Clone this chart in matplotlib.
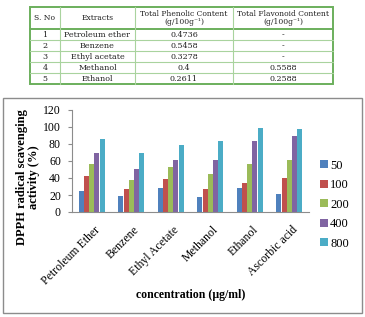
import matplotlib
matplotlib.use("Agg")
import matplotlib.pyplot as plt
import matplotlib.transforms as mtransforms
import numpy as np
from matplotlib.patches import Rectangle

# ---- table data ----
tbl_header = ["S. No", "Extracts", "Total Phenolic Content\n(g/100g\u207b\u00b9)", "Total Flavonoid Content\n(g/100g\u207b\u00b9)"]
tbl_sno = ["1", "2", "3", "4", "5"]
tbl_extracts = ["Petroleum ether", "Benzene", "Ethyl acetate", "Methanol", "Ethanol"]
tbl_phenolic = ["0.4736", "0.5458", "0.3278", "0.4", "0.2611"]
tbl_flavonoid = ["-", "-", "-", "0.5588", "0.2588"]

# ---- chart data ----
categories = ["Petroleum Ether", "Benzene", "Ethyl Acetate", "Methanol", "Ethanol", "Ascorbic acid"]
conc_labels = ["50", "100", "200", "400", "800"]
v50 = [25, 19, 28, 18, 28, 21]
v100 = [42, 27, 39, 26.5, 34.5, 40.5]
v200 = [57, 38, 53, 45, 56, 61]
v400 = [69, 51, 61.5, 61, 83, 89]
v800 = [86, 69, 79, 84, 98.5, 98]
series = [v50, v100, v200, v400, v800]
colors = ["#4F81BD", "#C0504D", "#9BBB59", "#8064A2", "#4BACC6"]

W, H = 365, 317
fig = plt.figure(figsize=(W / 100, H / 100), dpi=100)
serif = ["Liberation Serif", "DejaVu Serif"]
tserif = ["DejaVu Serif"]

# overlay axes in pixel coordinates for table and box
ov = fig.add_axes([0, 0, 1, 1])
ov.set_xlim(0, W)
ov.set_ylim(H, 0)
ov.axis("off")

# table geometry
cols = [30, 60, 135, 233, 333]
rows = [7, 29, 40, 51, 62, 73, 84]
green = "#6BAF5C"
lightg = "#A9D39E"
for y in rows[2:-1]:
    ov.plot([cols[0], cols[-1]], [y, y], color=lightg, lw=0.8)
ov.plot([cols[0], cols[-1]], [rows[1], rows[1]], color=green, lw=1.4)
for xx in cols[1:-1]:
    ov.plot([xx, xx], [rows[0], rows[-1]], color=lightg, lw=0.8)
ov.add_patch(Rectangle((cols[0], rows[0]), cols[-1] - cols[0], rows[-1] - rows[0],
                       fill=False, edgecolor=green, lw=1.4))
for j, txt in enumerate(tbl_header):
    cx = (cols[j] + cols[j + 1]) / 2
    ov.text(cx, (rows[0] + rows[1]) / 2, txt, ha="center", va="center",
            fontsize=5.5, family=tserif, color="#222222", linespacing=1.1)
for i in range(5):
    cy = (rows[i + 1] + rows[i + 2]) / 2 + 0.3
    vals = [tbl_sno[i], tbl_extracts[i], tbl_phenolic[i], tbl_flavonoid[i]]
    for j, txt in enumerate(vals):
        cx = (cols[j] + cols[j + 1]) / 2
        ov.text(cx, cy, txt, ha="center", va="center", fontsize=5.8,
                family=tserif, color="#222222")

# chart border box
ov.add_patch(Rectangle((3, 98), 359, 215, fill=False, edgecolor="#8C8C8C", lw=1.0))

# ---- bar chart ----
ax = fig.add_axes([72 / W, 1 - 212 / H, (309 - 72) / W, (212 - 110) / H])
x = np.arange(len(categories))
n = len(series)
group_w = 0.66
bw = group_w / n
for k, (vals, c) in enumerate(zip(series, colors)):
    ax.bar(x - group_w / 2 + bw * (k + 0.5), vals, width=bw * 0.95, color=c,
           label=conc_labels[k], edgecolor=c, linewidth=0)
ax.set_xlim(-0.5, len(categories) - 0.5)
ax.set_ylim(0, 120)
ax.set_yticks(np.arange(0, 121, 20))
for s in ["top", "right"]:
    ax.spines[s].set_visible(False)
ax.spines["left"].set_color("#8C8C8C")
ax.spines["bottom"].set_color("#8C8C8C")
ax.tick_params(axis="y", length=3, color="#8C8C8C", labelsize=8.5, pad=5)
ax.tick_params(axis="x", length=0, labelsize=8.5, pad=2)
ax.set_xticks(x)
ax.set_xticklabels(categories, rotation=45, ha="right", rotation_mode="anchor",
                   family=serif)
offset = mtransforms.ScaledTranslation(2 / 100, -9 / 100, fig.dpi_scale_trans)
for lab in ax.get_xticklabels():
    lab.set_transform(lab.get_transform() + offset)
for lab in ax.get_yticklabels():
    lab.set_family(serif)
ax.set_ylabel("DPPH radical scavenging\nactivity (%)", family=serif,
              fontweight="bold", fontsize=9, linespacing=1.1)
ax.yaxis.set_label_coords((40.5 - 72) / (309 - 72), (212 - 177) / (212 - 110))
ax.set_xlabel("concentration (\u00b5g/ml)", family=serif, fontweight="bold",
              fontsize=8.5)
ax.xaxis.set_label_coords(0.5, (212 - 295) / (212 - 110))
ax.xaxis.label.set_va("center")

leg = ax.legend(loc="center left", bbox_to_anchor=(1.0, 0.07), frameon=False,
                prop={"family": serif, "size": 9}, handlelength=0.6,
                handleheight=0.6, handletextpad=0.2, labelspacing=0.6)

fig.savefig("out.png", dpi=100)
